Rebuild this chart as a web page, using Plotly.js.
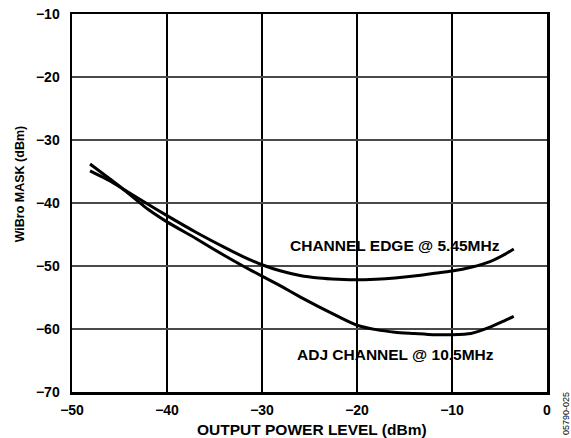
<!DOCTYPE html>
<html>
<head>
<meta charset="utf-8">
<script src="https://cdn.plot.ly/plotly-3.0.1.min.js"></script>
<style>html,body{margin:0;padding:0;background:#fff;}#chart{width:571px;height:438px;}</style>
</head>
<body>
<div id="chart"></div>
<script>
const edgeX = [-48.1, -46, -44.7, -42, -40, -37, -34, -32, -30, -28, -26, -24, -22, -20, -18, -16, -14, -12, -10, -8, -6, -4.5, -3.5];
const edgeY = [-34.9, -36.5, -37.7, -40.2, -42.0, -44.6, -47.0, -48.5, -49.8, -50.8, -51.5, -51.9, -52.1, -52.2, -52.1, -51.9, -51.6, -51.2, -50.8, -50.2, -49.3, -48.2, -47.3];
const adjX = [-48.1, -46, -44.7, -42, -40, -37, -34, -32, -30, -28, -26, -24, -22, -20, -18, -16, -14, -12, -10, -8, -6, -4.5, -3.5];
const adjY = [-33.8, -36.2, -37.7, -41.0, -43.0, -45.6, -48.3, -50.0, -51.6, -53.2, -54.9, -56.5, -58.0, -59.4, -60.1, -60.5, -60.7, -60.9, -60.9, -60.7, -59.7, -58.7, -58.0];
const xTicks = [-50, -40, -30, -20, -10, 0];
const xTickText = ['\u221250', '\u221240', '\u221230', '\u221220', '\u221210', '0'];
const yTicks = [-70, -60, -50, -40, -30, -20, -10];
const yTickText = ['\u221270', '\u221260', '\u221250', '\u221240', '\u221230', '\u221220', '\u221210'];
const labels = ['CHANNEL EDGE @ 5.45MHz', 'ADJ CHANNEL @ 10.5MHz'];
const labelX = [-16, -16];
const labelY = [-46.7, -64.1];
const xTitle = 'OUTPUT POWER LEVEL (dBm)';
const yTitle = 'WiBro MASK (dBm)';
const figId = '05790-025';

const F = 'Arial, "Liberation Sans", Helvetica, sans-serif';
const lineStyle = {color: '#000', width: 3, shape: 'spline', smoothing: 0.6};

const data = [
  {x: edgeX, y: edgeY, type: 'scatter', mode: 'lines', line: lineStyle, name: labels[0], hoverinfo: 'skip'},
  {x: adjX, y: adjY, type: 'scatter', mode: 'lines', line: lineStyle, name: labels[1], hoverinfo: 'skip'}
];

const annotations = labels.map((t, i) => ({
  x: labelX[i], y: labelY[i], xref: 'x', yref: 'y', text: t, showarrow: false,
  font: {family: F, size: 15.5, color: '#000', weight: 'bold'}
}));
annotations.push({
  x: 0.505, y: -0.1, xref: 'paper', yref: 'paper', text: xTitle, showarrow: false,
  xanchor: 'center', yanchor: 'middle',
  font: {family: F, size: 15.5, color: '#000', weight: 'bold'}
});
annotations.push({
  x: -0.109, y: 0.55, xref: 'paper', yref: 'paper', text: yTitle, showarrow: false,
  textangle: -90, xanchor: 'center', yanchor: 'middle',
  font: {family: F, size: 12.5, color: '#000', weight: 'bold'}
});
annotations.push({
  x: 1.04, y: -0.058, xref: 'paper', yref: 'paper', text: figId, showarrow: false,
  textangle: -90, font: {family: F, size: 9, color: '#000'}, xanchor: 'center', yanchor: 'middle'
});

const layout = {
  width: 571, height: 438,
  margin: {l: 72, r: 24, t: 14, b: 46, pad: 0},
  paper_bgcolor: '#fff', plot_bgcolor: '#fff',
  showlegend: false,
  font: {family: F, color: '#000'},
  xaxis: {
    range: [-50, 0], tickvals: xTicks, ticktext: xTickText, ticks: '',
    showgrid: true, gridcolor: '#000', gridwidth: 1.2,
    showline: true, mirror: true, linecolor: '#000', linewidth: 2.5,
    zeroline: false, automargin: false, ticklabelstandoff: 4,
    tickfont: {family: F, size: 14, color: '#000', weight: 'bold'}
  },
  yaxis: {
    range: [-70, -10], tickvals: yTicks, ticktext: yTickText, ticks: '',
    showgrid: true, gridcolor: '#4a4a4a', gridwidth: 1.5,
    showline: true, mirror: true, linecolor: '#000', linewidth: 2.5,
    zeroline: false, automargin: false, ticklabelstandoff: 7,
    tickfont: {family: F, size: 14, color: '#000', weight: 'bold'}
  },
  annotations: annotations
};

Plotly.newPlot('chart', data, layout, {staticPlot: true, displayModeBar: false});
</script>
</body>
</html>
